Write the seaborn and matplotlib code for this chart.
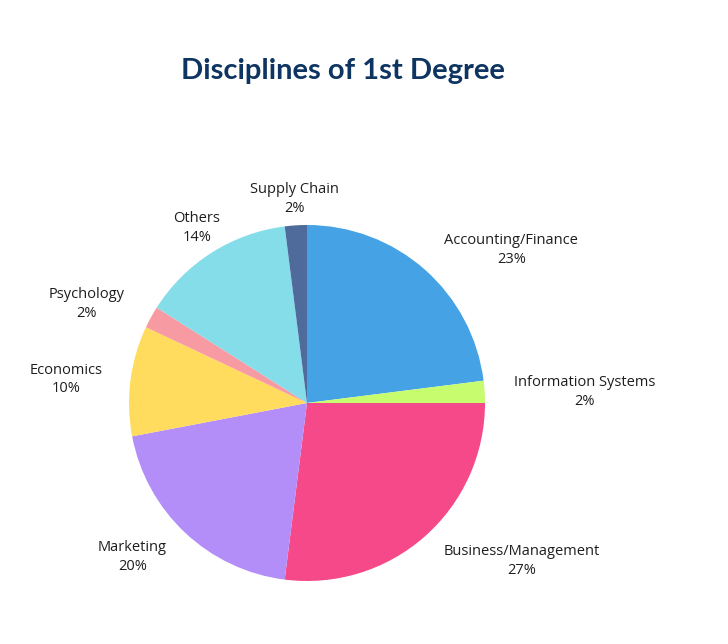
import seaborn as sns
import matplotlib.pyplot as plt
import numpy as np

disciplines = ["Accounting/Finance", "Information Systems", "Business/Management",
               "Marketing", "Economics", "Psychology", "Others", "Supply Chain"]
shares = [23, 2, 27, 20, 10, 2, 14, 2]
colors = ["#45A3E5", "#C6FC6E", "#F6498A", "#B38DF8", "#FFDC5E",
          "#F89AA1", "#86DDEA", "#4F6B9B"]

# label placement tweaks (radius in pie units, angle shift in degrees)
label_r = [1.44, 1.56, 1.49, 1.30, 1.36, 1.36, 1.17, 1.16]
label_shift = [-11.5, -0.9, 12.6, -5.8, 1.2, 4.3, -0.4, 0.0]


def main():
    sns.set_theme(style="white")
    plt.rcParams['font.family'] = ['Open Sans', 'DejaVu Sans']

    fig = plt.figure(figsize=(7.28, 6.44), dpi=100)
    fig.patch.set_facecolor("white")
    ax = fig.add_axes([129 / 728, 63 / 644, 356 / 728, 356 / 644])

    wedges, _ = ax.pie(shares, colors=colors, startangle=90, counterclock=False,
                       radius=1, wedgeprops=dict(linewidth=0))
    ax.set_xlim(-1, 1)
    ax.set_ylim(-1, 1)
    ax.set_aspect('equal')
    ax.axis('off')

    for w, name, val, r, sh in zip(wedges, disciplines, shares, label_r, label_shift):
        ang = np.deg2rad((w.theta1 + w.theta2) / 2 + sh)
        ax.text(r * np.cos(ang), r * np.sin(ang) - 0.01, f"{name}\n{val}%",
                ha='center', va='center', fontsize=10.5, color="#1E1E1E",
                linespacing=1.35, clip_on=False)

    fig.text(343 / 728, 1 - 71 / 644, "Disciplines of 1st Degree",
             ha='center', va='center', fontsize=21, fontweight='bold',
             color="#0E3461", family=['Lato', 'DejaVu Sans'])

    fig.savefig("out.png", dpi=100, facecolor="white")


if __name__ == "__main__":
    main()
